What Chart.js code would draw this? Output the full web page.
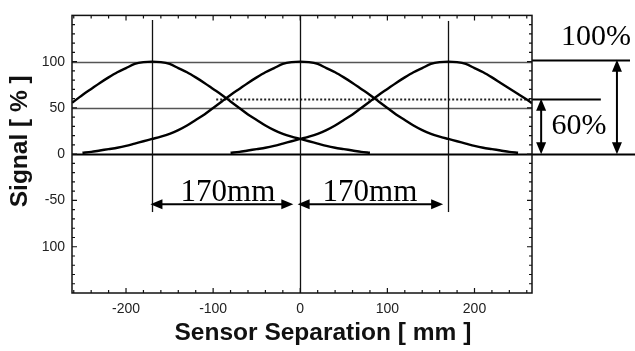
<!DOCTYPE html>
<html><head><meta charset="utf-8">
<script src="https://cdn.jsdelivr.net/npm/chart.js@4"></script>
<style>html,body{margin:0;padding:0;background:#fff}#wrap{width:635px;height:351px}</style>
</head><body><div id="wrap"><canvas id="c" width="635" height="351"></canvas></div>
<script>
// ---- data ----
const curveLeftX  = [-262,-250,-240,-230,-220,-210,-200,-190,-180,-170,-160,-150,-140,-130,-120,-110,-100,-90,-80,-70,-60,-50,-40,-30,-20,-10,0,10,20,30,40,50,60,70,80];
const curveLeftY  = [55.5,64,70.5,77,83,88.5,93,97.5,99.5,100,99.5,97.5,93,88.5,83,77,70.5,64,57,50,43,37,31,26,22,19,16.5,14,11.5,9,7,5.5,4,2.5,1.5];
const curveMidX   = [-250,-240,-230,-220,-210,-200,-190,-180,-170,-160,-150,-140,-130,-120,-110,-100,-90,-80,-70,-60,-50,-40,-30,-20,-10,0,10,20,30,40,50,60,70,80,90,100,110,120,130,140,150,160,170,180,190,200,210,220,230,240,250];
const curveMidY   = [1.5,2.5,4,5.5,7,9,11.5,14,16.5,19,22,26,31,37,43,50,57,64,70.5,77,83,88.5,93,97.5,99.5,100,99.5,97.5,93,88.5,83,77,70.5,64,57,50,43,37,31,26,22,19,16.5,14,11.5,9,7,5.5,4,2.5,1.5];
const curveRightX = [-80,-70,-60,-50,-40,-30,-20,-10,0,10,20,30,40,50,60,70,80,90,100,110,120,130,140,150,160,170,180,190,200,210,220,230,240,250,260,266];
const curveRightY = [1.5,2.5,4,5.5,7,9,11.5,14,16.5,19,22,26,31,37,43,50,57,64,70.5,77,83,88.5,93,97.5,99.5,100,99.5,97.5,93,88.5,83,77,71,65,59,55];

const xTickValues = [-200,-100,0,100,200];
const xTickLabels = ['-200','-100','0','100','200'];
const yTickValues = [100,50,0,-50,-100];
const yTickLabels = ['100','50','0','-50','100'];
const xRange = [-262, 266];
const yRange = [-150, 150];
const xTitle = 'Sensor Separation [ mm ]';
const yTitle = 'Signal [ % ]';

// annotation geometry, in data units
const levelLines = [
  {y:100, x0:-262, x1:266,   kind:'grid'},
  {y:50,  x0:-262, x1:266,   kind:'grid'},
  {y:0,   x0:-262, x1:385,   kind:'zero'},
  {y:60,  x0:-96.5, x1:266,  kind:'dot'},
  {y:60,  x0:266,  x1:345,   kind:'solid'},
  {y:101.5, x0:266, x1:378.5, kind:'solid'}
];
const sensorLines = [
  {x:-170, y0:145, y1:-62.5},
  {x:0,    y0:150, y1:-150},
  {x:170,  y0:144, y1:-62.5}
];
const hArrows = [
  {y:-54, x0:-172, x1:-8},
  {y:-54, x0:-3,   x1:164}
];
const vArrows = [
  {x:276.5, y0:60,  y1:0},
  {x:363.5, y0:102, y1:0}
];
const labels = [
  {text:'170mm', x:-83,   y:-50.5, size:31},
  {text:'170mm', x:80,    y:-50.5, size:31},
  {text:'100%',  x:339.5, y:118,   size:30},
  {text:'60%',   x:320,   y:21.5,  size:30}
];

const toPts = (xs, ys) => xs.map((x, i) => ({x: x, y: ys[i]}));

function arrowHead(ctx, tx, ty, dx, dy) {
  const L = 12, W = 5;
  const px = -dy, py = dx;
  ctx.beginPath();
  ctx.moveTo(tx, ty);
  ctx.lineTo(tx - dx*L + px*W, ty - dy*L + py*W);
  ctx.lineTo(tx - dx*L - px*W, ty - dy*L - py*W);
  ctx.closePath();
  ctx.fill();
}

const annot = {
  id: 'annot',
  beforeDatasetsDraw(chart) {
    const {ctx, scales: {x, y}} = chart;
    ctx.save();
    levelLines.forEach(l => {
      ctx.beginPath();
      if (l.kind === 'grid') { ctx.strokeStyle = '#555'; ctx.lineWidth = 1.5; ctx.setLineDash([]); }
      else if (l.kind === 'zero') { ctx.strokeStyle = '#000'; ctx.lineWidth = 2; ctx.setLineDash([]); }
      else if (l.kind === 'dot') { ctx.strokeStyle = '#222'; ctx.lineWidth = 2; ctx.setLineDash([2, 2]); }
      else { ctx.strokeStyle = '#000'; ctx.lineWidth = 1.8; ctx.setLineDash([]); }
      const py = Math.round(y.getPixelForValue(l.y)) + 0.5;
      ctx.moveTo(x.getPixelForValue(l.x0), py);
      ctx.lineTo(x.getPixelForValue(l.x1), py);
      ctx.stroke();
    });
    ctx.setLineDash([]);
    sensorLines.forEach(s => {
      ctx.strokeStyle = '#111'; ctx.lineWidth = 1.3;
      const px = Math.round(x.getPixelForValue(s.x)) + 0.5;
      ctx.beginPath();
      ctx.moveTo(px, y.getPixelForValue(s.y0));
      ctx.lineTo(px, y.getPixelForValue(s.y1));
      ctx.stroke();
    });
    ctx.restore();
  },
  afterDatasetsDraw(chart) {
    const {ctx, chartArea: a, scales: {x, y}} = chart;
    ctx.save();
    // frame
    ctx.strokeStyle = '#111'; ctx.lineWidth = 1.5;
    ctx.strokeRect(a.left, a.top, a.right - a.left, a.bottom - a.top);
    // inward ticks
    ctx.lineWidth = 1.2;
    ctx.beginPath();
    for (let v = -260; v <= 260; v += 20) {
      const px = x.getPixelForValue(v);
      const len = (v % 100 === 0) ? 5 : 3;
      ctx.moveTo(px, a.bottom); ctx.lineTo(px, a.bottom - len);
      ctx.moveTo(px, a.top); ctx.lineTo(px, a.top + len);
    }
    for (let v = -140; v <= 140; v += 10) {
      const py = y.getPixelForValue(v);
      const len = (v % 50 === 0) ? 5 : 3;
      ctx.moveTo(a.left, py); ctx.lineTo(a.left + len, py);
      ctx.moveTo(a.right, py); ctx.lineTo(a.right - len, py);
    }
    ctx.stroke();
    // arrows
    ctx.fillStyle = '#000'; ctx.strokeStyle = '#000'; ctx.lineWidth = 2;
    hArrows.forEach(h => {
      const py = y.getPixelForValue(h.y);
      const x0 = x.getPixelForValue(h.x0), x1 = x.getPixelForValue(h.x1);
      ctx.beginPath(); ctx.moveTo(x0 + 6, py); ctx.lineTo(x1 - 6, py); ctx.stroke();
      arrowHead(ctx, x0, py, -1, 0);
      arrowHead(ctx, x1, py, 1, 0);
    });
    vArrows.forEach(v => {
      const px = x.getPixelForValue(v.x);
      const y0 = y.getPixelForValue(v.y0), y1 = y.getPixelForValue(v.y1);
      ctx.beginPath(); ctx.moveTo(px, y0 + 6); ctx.lineTo(px, y1 - 6); ctx.stroke();
      arrowHead(ctx, px, y0, 0, -1);
      arrowHead(ctx, px, y1, 0, 1);
    });
    // annotation texts
    ctx.fillStyle = '#000';
    ctx.textAlign = 'center'; ctx.textBaseline = 'alphabetic';
    labels.forEach(l => {
      ctx.font = l.size + 'px "Liberation Serif", "Times New Roman", serif';
      ctx.fillText(l.text, x.getPixelForValue(l.x), y.getPixelForValue(l.y));
    });
    // axis titles
    ctx.fillStyle = '#111';
    ctx.font = 'bold 24.5px "Liberation Sans", Arial, sans-serif';
    ctx.fillText(xTitle, x.getPixelForValue(26), a.bottom + 47);
    ctx.translate(a.left - 45, y.getPixelForValue(14));
    ctx.rotate(-Math.PI / 2);
    ctx.fillText(yTitle, 0, 0);
    ctx.restore();
  }
};

const lineDs = (xs, ys) => ({
  data: toPts(xs, ys),
  borderColor: '#000', borderWidth: 2.4, pointRadius: 0, tension: 0.3, fill: false
});

new Chart(document.getElementById('c'), {
  type: 'line',
  data: { datasets: [lineDs(curveLeftX, curveLeftY), lineDs(curveMidX, curveMidY), lineDs(curveRightX, curveRightY)] },
  options: {
    responsive: false, animation: false,
    layout: { padding: { left: 0, right: 103, top: 13, bottom: 0 } },
    plugins: { legend: { display: false }, tooltip: { enabled: false } },
    scales: {
      x: {
        type: 'linear', min: xRange[0], max: xRange[1],
        grid: { display: false, drawTicks: false }, border: { display: false },
        afterBuildTicks: s => { s.ticks = xTickValues.map(v => ({value: v})); },
        afterFit: s => { s.height = 58; },
        ticks: { padding: 8, color: '#222', font: { family: '"Liberation Sans", Arial', size: 14 },
          callback: (v) => xTickLabels[xTickValues.indexOf(v)] },
        title: { display: false }
      },
      y: {
        type: 'linear', min: yRange[0], max: yRange[1],
        grid: { display: false, drawTicks: false }, border: { display: false },
        afterBuildTicks: s => { s.ticks = yTickValues.map(v => ({value: v})); },
        afterFit: s => { s.width = 72; },
        ticks: { padding: 7, color: '#222', font: { family: '"Liberation Sans", Arial', size: 14 },
          callback: (v) => yTickLabels[yTickValues.indexOf(v)] },
        title: { display: false }
      }
    }
  },
  plugins: [annot]
});
</script>
</body></html>
